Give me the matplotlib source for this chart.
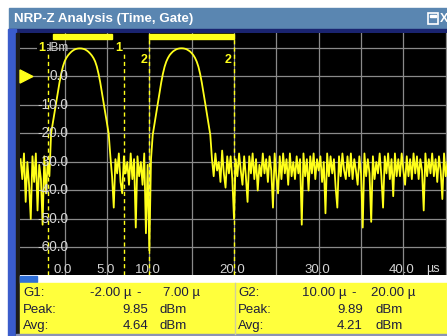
import numpy as np
import matplotlib
matplotlib.use("Agg")
import matplotlib.pyplot as plt
from matplotlib.patches import Rectangle, Polygon

plt.rcParams["font.family"] = ["Liberation Sans", "DejaVu Sans"]

# --- data ---
x_ticks = [0, 5, 10, 20, 30, 40]
x_tick_labels = ["0.0", "5.0", "10.0", "20.0", "30.0", "40.0"]
y_ticks = [0, -10, -20, -30, -40, -50, -60]
y_tick_labels = ["0.0", "-10.0", "-20.0", "-30.0", "-40.0", "-50.0", "-60.0"]

gate_names = ["1", "2"]
gate_starts = [-2.0, 10.0]
gate_stops = [7.0, 20.0]
gate_bar_starts = [-1.35, 10.0]
gate_bar_stops = [5.6, 20.0]
gate_peaks = [9.85, 9.89]
gate_avgs = [4.64, 4.21]

# trace in dBm, one sample every 0.2 us starting at -5.2 us
t_start, t_step = -5.2, 0.2
noise_pre = [-29, -36, -27, -44, -30, -38, -50, -28, -37, -27, -47, -31, -36, -52, -28, -41, -30, -35]
pulse_1 = [-20.0, -16.5, -12.8, -9.2, -5.5, -2.0, 1.0, 3.5, 5.3, 6.5, 7.4, 8.1, 8.7, 9.15, 9.5, 9.7,
           9.82, 9.85, 9.82, 9.7, 9.5, 9.15, 8.7, 8.1, 7.4, 6.5, 5.3, 3.5, 1.0, -2.0, -5.5, -9.2,
           -12.8, -16.5, -20.0]
noise_mid = [-28, -35, -46, -29, -34, -27, -37, -41, -28, -34, -30, -38, -27, -36, -29, -53, -28,
             -35, -30, -38, -27, -55, -31, -61, -29]
pulse_2 = [-20.5, -16.8, -13.0, -9.4, -5.7, -2.2, 0.9, 3.4, 5.2, 6.5, 7.5, 8.2, 8.8, 9.2, 9.55, 9.75,
           9.86, 9.89, 9.86, 9.75, 9.55, 9.2, 8.8, 8.2, 7.5, 6.5, 5.2, 3.4, 0.9, -2.2, -5.7, -9.4,
           -13.0, -16.8, -20.5]
noise_post = [
    -29, -35, -27, -33, -30, -37, -26, -34, -39, -28,
    -34, -28, -36, -50, -29, -35, -27, -33, -38, -28,
    -35, -44, -28, -34, -27, -36, -29, -40, -31, -35,
    -27, -34, -29, -37, -28, -33, -46, -27, -35, -41,
    -28, -36, -27, -34, -29, -38, -27, -35, -30, -36,
    -28, -34, -29, -52, -27, -35, -29, -40, -28, -34,
    -27, -36, -29, -33, -28, -37, -30, -48, -27, -35,
    -28, -34, -29, -39, -46, -28, -35, -27, -33, -36,
    -28, -35, -27, -36, -29, -33, -38, -28, -34, -53,
    -27, -35, -29, -34, -51, -28, -36, -30, -34, -27,
    -35, -46, -28, -34, -27, -36, -29, -42, -27, -35,
    -29, -35, -27, -33, -38, -28, -35, -29, -36, -27,
    -34, -28, -36, -29, -33, -47, -27, -35, -29, -34,
    -27, -35, -29, -37, -28, -33, -43, -27, -35, -30,
]

trace = np.array(noise_pre + pulse_1 + noise_mid + pulse_2 + noise_post, dtype=float)
time = t_start + t_step * np.arange(len(trace))

YELLOW = "#ffff1a"
GRID = "#8a8a8a"
LABEL = "#d4d4d4"
W, H = 447, 336

fig = plt.figure(figsize=(W / 100, H / 100), dpi=100)

# --- window chrome in pixel coordinates ---
bg = fig.add_axes([0, 0, 1, 1])
bg.set_xlim(0, W)
bg.set_ylim(H, 0)
bg.axis("off")
bg.add_patch(Rectangle((0, 0), W, H, color="white"))
bg.add_patch(Rectangle((9, 8), W - 9, 21, color="#5a86b1"))
bg.add_patch(Rectangle((9, 29), W - 9, 4, color="#1a2470"))
bg.add_patch(Rectangle((8, 29), 8, H - 29, color="#3a5ccc"))
bg.add_patch(Rectangle((16, 33), 4, H - 33, color="#1c1c1c"))
bg.add_patch(Rectangle((20, 275), W - 20, 8, color="white"))
bg.add_patch(Rectangle((20, 276), 17, 6, color="#2f6fd8"))
bg.add_patch(Rectangle((20, 283), W - 20, 51, color="#ffff3c"))
bg.add_patch(Rectangle((16, 334), W - 16, 2, color="#8c94b4"))
bg.plot([235, 235], [283, 334], color="#d2cf9a", lw=1)
bg.text(14, 19, "NRP-Z Analysis (Time, Gate)", color="white", fontsize=9.6,
        fontweight="bold", va="center", ha="left")
bg.add_patch(Rectangle((428, 13), 10, 11, fill=False, ec="white", lw=1.2))
bg.add_patch(Rectangle((430, 15), 6, 2, color="white"))
bg.text(440, 19, "X", color="white", fontsize=9, fontweight="bold", va="center", ha="left")

# --- result table ---
TXT = "#1e1e3c"
rows_y = [293, 310, 326]
for i, x0 in enumerate([23, 238]):
    name = "G%s:" % gate_names[i]
    fs = 9.5
    bg.text(x0, rows_y[0], name, color=TXT, fontsize=fs, va="center")
    bg.text(x0, rows_y[1], "Peak:", color=TXT, fontsize=fs, va="center")
    bg.text(x0, rows_y[2], "Avg:", color=TXT, fontsize=fs, va="center")
    bg.text(x0 + 109, rows_y[0], "%.2f \u00b5" % gate_starts[i], color=TXT, fontsize=fs,
            va="center", ha="right")
    bg.text(x0 + 116, rows_y[0], "-", color=TXT, fontsize=fs, va="center", ha="center")
    bg.text(x0 + 177, rows_y[0], "%.2f \u00b5" % gate_stops[i], color=TXT, fontsize=fs,
            va="center", ha="right")
    bg.text(x0 + 125, rows_y[1], "%.2f" % gate_peaks[i], color=TXT, fontsize=fs,
            va="center", ha="right")
    bg.text(x0 + 125, rows_y[2], "%.2f" % gate_avgs[i], color=TXT, fontsize=fs,
            va="center", ha="right")
    bg.text(x0 + 137, rows_y[1], "dBm", color=TXT, fontsize=fs, va="center")
    bg.text(x0 + 137, rows_y[2], "dBm", color=TXT, fontsize=fs, va="center")

# --- trace area ---
ax = fig.add_axes([20 / W, (H - 275) / H, (W - 20) / W, 242 / H])
ax.set_facecolor("black")
ax.set_xlim(-5.27, 45.15)
ax.set_ylim(-69.65, 15.26)
for s in ax.spines.values():
    s.set_visible(False)
ax.set_xticks([])
ax.set_yticks([])

for xv in range(0, 50, 5):
    ax.axvline(xv, color=GRID, lw=0.9, zorder=1)
for yv in range(10, -70, -10):
    ax.axhline(yv, color=GRID, lw=0.9, zorder=1)

ax.plot(time, trace, color=YELLOW, lw=1.3, zorder=3)

# gates: bars on top, dashed limits and numbers
for i in range(len(gate_names)):
    ax.add_patch(Rectangle((gate_bar_starts[i], 13.0), gate_bar_stops[i] - gate_bar_starts[i], 1.9,
                           color=YELLOW, zorder=4))
    for xv in (gate_starts[i], gate_stops[i]):
        ax.plot([xv, xv], [-69.65, 8.0 if i == 0 else 13.0], color=YELLOW, lw=1.0,
                linestyle=(0, (3, 2.2)), zorder=4)
        ax.text(xv - 0.25, 10.0 if i == 0 else 5.8, gate_names[i], color=YELLOW, fontsize=9,
                fontweight="bold", ha="right", va="center", zorder=6,
                bbox=dict(boxstyle="square,pad=0.1", fc="black", ec="none"))

# axis labels drawn inside the screen
for yv, lab in zip(y_ticks, y_tick_labels):
    ax.text(0.4, yv, lab, color=LABEL, fontsize=9.8, ha="right", va="center", zorder=5)
ax.text(0.45, 10.0, "dBm", color=LABEL, fontsize=8.5, ha="right", va="center", zorder=5)
for xv, lab in zip(x_ticks, x_tick_labels):
    ax.text(xv - 0.2, -67.9, lab, color=LABEL, fontsize=9.5, ha="center", va="center", zorder=5)
ax.text(43.5, -67.6, "\u00b5s", color=LABEL, fontsize=9, ha="center", va="center", zorder=5)

# reference level marker
ax.add_patch(Polygon([(-5.27, 2.3), (-3.75, 0.0), (-5.27, -2.3)], closed=True,
                     color=YELLOW, zorder=6, clip_on=False))

fig.savefig("out.png", dpi=100)
